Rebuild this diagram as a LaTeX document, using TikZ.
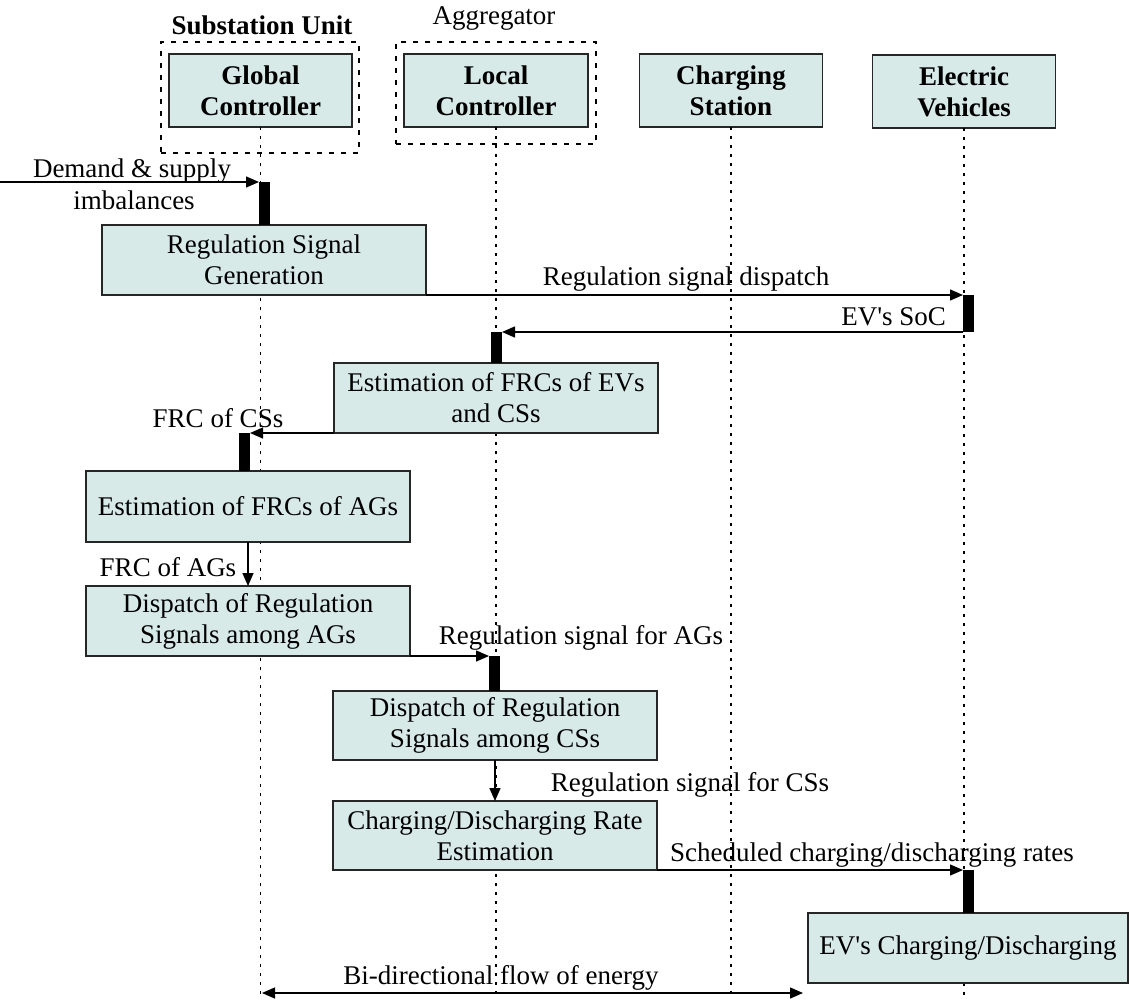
\documentclass[tikz,border=0pt]{standalone}
\usepackage{fontspec}
\setmainfont{Liberation Serif}[Ligatures=TeXOff]
\usetikzlibrary{arrows.meta}
\definecolor{boxfill}{RGB}{215,234,232}
\begin{document}
\begin{tikzpicture}[x=0.5pt,y=-0.5pt,
  every node/.style={font=\fontsize{13.5}{15.5}\selectfont, inner sep=0pt, outer sep=0pt},
  actor/.style={draw=black!85, line width=0.9pt, fill=boxfill, align=center,
    font=\fontsize{13.5}{15.5}\selectfont\bfseries},
  proc/.style={draw=black!85, line width=0.9pt, fill=boxfill, align=center},
  group/.style={draw, line width=0.8pt, dash pattern=on 2.5pt off 3.5pt},
  lifeline/.style={line width=0.8pt, dash pattern=on 1.5pt off 3pt},
  actbar/.style={fill=black, draw=none, anchor=north west, minimum width=5.5pt},
  msg/.style={line width=0.7pt, -{Triangle[length=6.5pt,width=5.5pt]}},
]
\useasboundingbox (0,0) rectangle (1130,1001);

% groups
\node[group, minimum width=99pt, minimum height=55.5pt] (subst) at (260,97.5) {};
\node[group, minimum width=100pt, minimum height=51pt] (aggr) at (496,93) {};
\node[font=\fontsize{13.5}{15.5}\selectfont\bfseries] (substlbl) at (262,25) {Substation Unit};
\node (aggrlbl) at (494,19) {Aggregator};

% participants
\node[actor, minimum width=91.5pt, minimum height=36.5pt] (gc) at (260.5,90.5) {Global\\Controller};
\node[actor, minimum width=92pt, minimum height=36.5pt] (lc) at (496,90.5) {Local\\Controller};
\node[actor, minimum width=91.5pt, minimum height=36.5pt] (cs) at (731,90.5) {Charging\\Station};
\node[actor, minimum width=91.5pt, minimum height=36.5pt] (ev) at (964,91.5) {Electric\\Vehicles};

% lifelines
\coordinate (lifeend) at (0,995);
\draw[lifeline] (gc.south) -- (gc.south |- lifeend);
\draw[lifeline] (lc.south) -- (lc.south |- lifeend);
\draw[lifeline] (cs.south) -- (cs.south |- lifeend);
\draw[lifeline] (ev.south) -- (ev.south |- lifeend);

% activities
\node[proc, minimum width=162pt, minimum height=35pt] (rsg) at (264,260) {Regulation Signal\\Generation};
\node[proc, minimum width=162pt, minimum height=35pt] (efe) at (496,398) {Estimation of FRCs of EVs\\and CSs};
\node[proc, minimum width=162pt, minimum height=35.5pt] (efa) at (248,506.5) {Estimation of FRCs of AGs};
\node[proc, minimum width=162pt, minimum height=35pt] (dra) at (248,621) {Dispatch of Regulation\\Signals among AGs};
\node[proc, minimum width=162pt, minimum height=34.5pt] (drc) at (495,725.5) {Dispatch of Regulation\\Signals among CSs};
\node[proc, minimum width=162pt, minimum height=34.5pt] (cde) at (495,835.5) {Charging/Discharging Rate\\Estimation};
\node[proc, minimum width=160pt, minimum height=35pt] (evc) at (968,948) {EV's Charging/Discharging};

% activation bars
\node[actbar, minimum height=21.5pt] (b1) at (259,182) {};
\node[actbar, minimum height=18.5pt] (b2) at (963,295) {};
\node[actbar, minimum height=15.5pt] (b3) at (491,332) {};
\node[actbar, minimum height=19pt] (b4) at (239,433) {};
\node[actbar, minimum height=17.5pt] (b5) at (489,656) {};
\node[actbar, minimum height=21.5pt] (b6) at (963,870) {};

% messages
\coordinate (ext) at (0,182);
\draw[msg] (ext) -- (b1.north west);
\node (m1a) at (132,171) {Demand \& supply};
\node (m1b) at (134,200) {imbalances};

\draw[msg] (rsg.south east) -- (b2.north west);
\node (m2) at (686,279) {Regulation signal dispatch};

\draw[msg] (b2.south west) -- (b3.north east);
\node[anchor=east] (m3) at (946,317) {EV's SoC};

\draw[msg] (efe.south west) -- (b4.north east);
\node (m4) at (218,418) {FRC of CSs};

\draw[msg] (efa.south) -- (dra.north);
\node (m5) at (168,567) {FRC of AGs};

\draw[msg] (dra.south east) -- (b5.north west);
\node (m6) at (581,638) {Regulation signal for AGs};

\draw[msg] (drc.south) -- (cde.north);
\node (m7) at (690,785) {Regulation signal for CSs};

\draw[msg] (cde.south east) -- (b6.north west);
\node (m8) at (872,855) {Scheduled charging/discharging rates};

% energy flow
\coordinate (fl) at (262,993);
\coordinate (fr) at (803,993);
\draw[line width=0.7pt, {Triangle[length=6.5pt,width=5.5pt]}-{Triangle[length=6.5pt,width=5.5pt]}] (fl) -- (fr);
\node (m9) at (501,978) {Bi-directional flow of energy};
\end{tikzpicture}
\end{document}
